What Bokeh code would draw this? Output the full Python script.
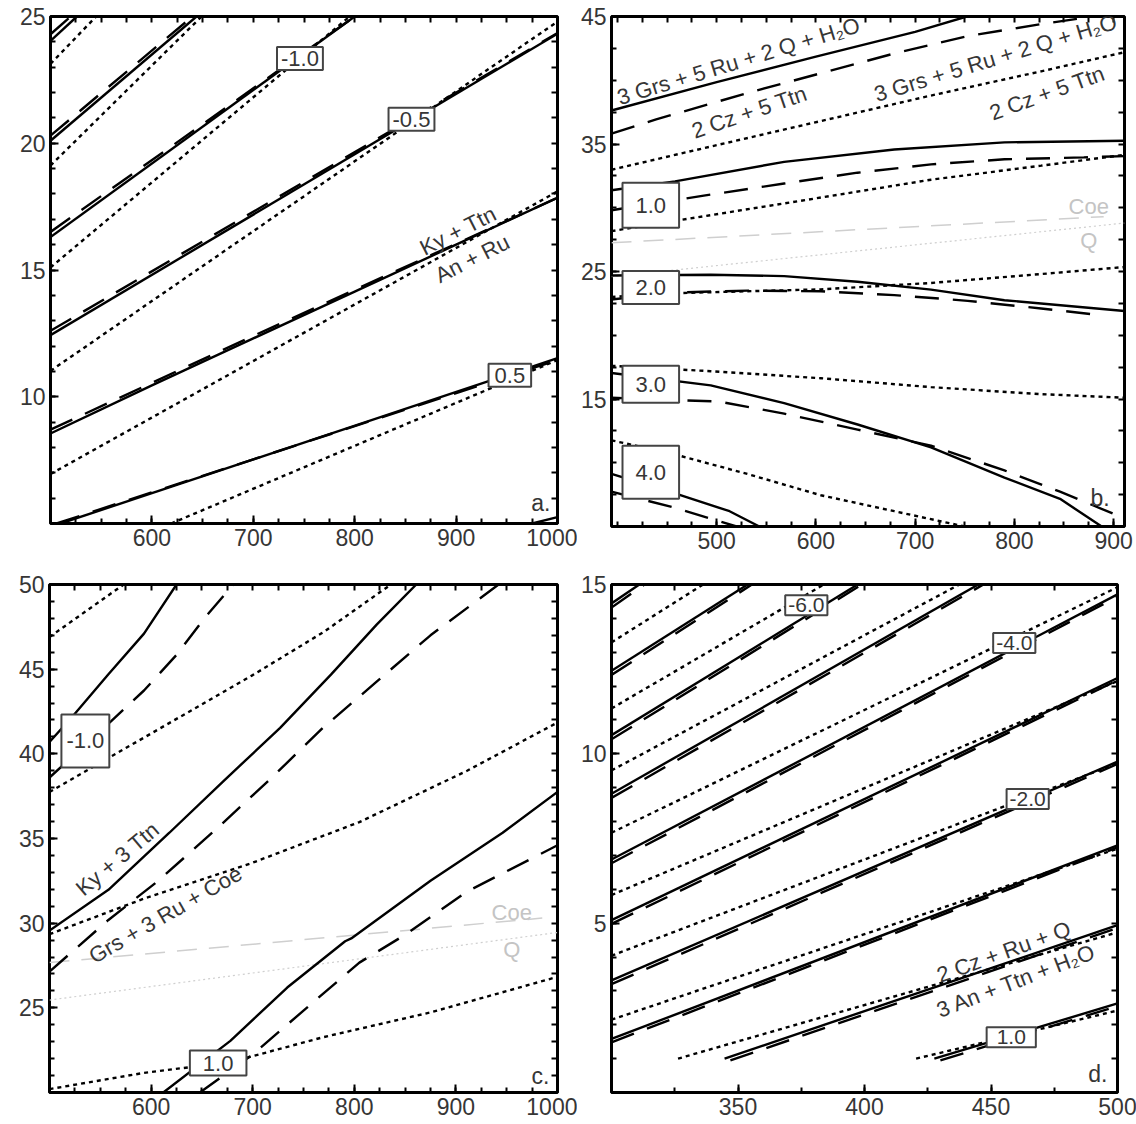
import numpy as np
from bokeh.plotting import figure
from bokeh.models import Range1d, FixedTicker, LinearAxis, Label
from bokeh.layouts import row, column
from bokeh.embed import file_html
from bokeh.resources import INLINE

# ---------------- data ----------------
# Panel a : x = T (500-1000), y = P (5-25)
a_solid_x = [[510, 1000], [500, 600, 700, 800, 900, 1000], [500, 1000], [500, 800], [500, 644], [500, 526], [975, 1000]]
a_solid_y = [[5.0, 11.52], [8.55, 10.45, 12.3, 14.15, 16.0, 17.85], [12.43, 24.32], [16.3, 25.0], [20.1, 25.0], [24.04, 25.0], [5.0, 5.25]]
a_dash_x = [[506, 1000], [500, 700, 1000], [500, 1000], [500, 800], [500, 640], [500, 520]]
a_dash_y = [[5.0, 11.45], [8.7, 12.4, 17.85], [12.6, 24.35], [16.5, 25.0], [20.3, 25.0], [24.3, 25.0]]
a_dot_x = [[619, 1000], [500, 1000], [500, 1000], [500, 795], [500, 649], [500, 545]]
a_dot_y = [[5.0, 11.45], [6.95, 18.1], [11.02, 24.8], [15.1, 25.0], [19.12, 25.0], [23.13, 25.0]]

# Panel b : x = T (394-911), y = P (5-45)
b_solid_x = [[394, 500, 600, 700, 752],
             [394, 458, 568, 679, 790, 911],
             [394, 494, 568, 642, 716, 790, 911],
             [394, 494, 568, 642, 716, 790, 846, 888],
             [394, 458, 513, 543]]
b_solid_y = [[37.63, 39.85, 41.85, 43.8, 45.0],
             [31.37, 32.07, 33.6, 34.57, 35.13, 35.26],
             [24.69, 24.75, 24.64, 24.2, 23.58, 22.75, 21.9],
             [17.04, 16.07, 14.68, 13.0, 11.2, 8.84, 7.17, 5.0],
             [9.12, 7.59, 6.2, 5.0]]
b_dash_x = [[394, 439, 531, 605, 679, 753, 827, 879],
            [394, 487, 568, 642, 716, 790, 870, 911],
            [394, 457, 531, 605, 679, 753, 827, 890],
            [394, 502, 568, 642, 716, 790, 846, 911],
            [394, 458, 520]]
b_dash_y = [[35.82, 36.93, 39.0, 40.55, 42.1, 43.47, 44.4, 45.0],
            [29.8, 30.95, 31.9, 32.75, 33.4, 33.8, 33.95, 34.05],
            [22.8, 23.35, 23.5, 23.45, 23.15, 22.7, 22.1, 21.55],
            [15.1, 14.8, 13.85, 12.6, 11.34, 9.4, 7.73, 5.64],
            [7.73, 6.47, 5.0]]
b_dot_x = [[394, 494, 605, 716, 827, 911],
           [394, 494, 605, 716, 827, 911],
           [394, 457, 605, 716, 827, 911],
           [394, 494, 605, 716, 827, 911],
           [394, 458, 531, 605, 679, 750]]
b_dot_y = [[32.98, 34.8, 36.8, 38.8, 40.7, 42.2],
           [28.17, 29.42, 30.8, 32.2, 33.3, 34.15],
           [23.0, 23.3, 23.6, 24.1, 24.8, 25.35],
           [17.6, 17.18, 16.63, 15.93, 15.38, 15.1],
           [11.76, 10.65, 9.12, 7.45, 6.2, 5.0]]
b_coe_x = [394, 890]
b_coe_y = [27.25, 29.3]
b_q_x = [394, 911]
b_q_y = [24.6, 28.8]

# Panel c : x = T (500-1000), y = P (20-50)
c_solid_x = [[500, 522, 558, 593, 625],
             [500, 558, 618, 671, 727, 777, 822, 861],
             [612, 678, 734, 791, 797, 875, 946, 1000]]
c_solid_y = [[40.7, 42.16, 44.7, 47.1, 50.0],
             [29.56, 31.97, 35.34, 38.38, 41.53, 44.68, 47.63, 50.0],
             [20.0, 23.05, 26.2, 28.93, 29.1, 32.5, 35.34, 37.75]]
c_dash_x = [[500, 561, 593, 625, 653, 681],
            [500, 558, 607, 664, 717, 769, 822, 875, 942],
            [648, 699, 752, 805, 851, 911, 1000]]
c_dash_y = [[38.6, 41.95, 43.74, 45.84, 48.05, 50.0],
            [27.14, 30.19, 32.5, 35.55, 38.49, 41.53, 44.26, 47.0, 50.0],
            [20.0, 22.2, 24.94, 27.67, 29.35, 31.87, 34.6]]
c_dot_x = [[500, 573],
           [500, 600, 700, 770, 836],
           [500, 593, 699, 805, 911, 1000],
           [500, 593, 678, 769, 875, 1000]]
c_dot_y = [[46.9, 50.0],
           [37.75, 41.2, 44.65, 47.2, 50.0],
           [29.35, 31.45, 33.55, 35.97, 39.0, 41.85],
           [20.2, 21.16, 21.79, 23.26, 24.73, 26.83]]
c_coe_x = [500, 985]
c_coe_y = [27.67, 30.3]
c_q_x = [500, 1000]
c_q_y = [25.46, 29.45]

# Panel d : x = T (300-500), y = P (0-15)
d_solid_x = [[427.6, 500], [344.7, 500], [300, 500], [300, 500], [300, 500], [300, 500],
             [300, 445], [300, 397.3], [300, 353.8], [300, 311]]
d_solid_y = [[1.0, 2.63], [1.0, 4.94], [1.58, 7.3], [3.31, 9.77], [5.09, 12.24], [6.88, 14.71],
             [8.82, 15.0], [10.55, 15.0], [12.45, 15.0], [14.44, 15.0]]
d_dash_x = [[430, 500], [347, 500], [300, 500], [300, 500], [300, 500], [300, 500],
            [300, 447], [300, 399], [300, 355.5], [300, 313]]
d_dash_y = [[0.95, 2.55], [0.95, 4.86], [1.48, 7.24], [3.2, 9.7], [4.98, 12.17], [6.77, 14.64],
            [8.7, 15.0], [10.43, 15.0], [12.33, 15.0], [14.32, 15.0]]
d_dot_x = [[420.4, 500], [326.3, 500], [300, 500], [300, 500], [300, 500], [300, 500],
           [300, 437.5], [300, 383.9], [300, 336.2]]
d_dot_y = [[1.0, 2.42], [1.0, 4.73], [2.15, 7.2], [4.04, 9.72], [5.83, 12.15], [7.67, 14.92],
           [9.51, 15.0], [11.34, 15.0], [13.29, 15.0]]

# ticks
a_xticks = [600, 700, 800, 900, 1000]
a_yticks = [10, 15, 20, 25]
b_xticks = [500, 600, 700, 800, 900]
b_yticks = [15, 25, 35, 45]
c_xticks = [600, 700, 800, 900, 1000]
c_yticks = [25, 30, 35, 40, 45, 50]
d_xticks = [350, 400, 450, 500]
d_yticks = [5, 10, 15]

# ---------------- styling helpers ----------------
FONT = "Liberation Sans"
TXT = "#363636"
DASH = "24 14"
DOT = "4 4"


def style_axis(ax, major, minor, labels):
    ax.axis_line_color = None
    ax.major_tick_out = 0
    ax.minor_tick_out = 0
    ax.major_tick_line_color = "black"
    ax.minor_tick_line_color = "black"
    ax.major_tick_line_width = 2
    ax.minor_tick_line_width = 2
    if labels:
        ax.ticker = FixedTicker(ticks=major, minor_ticks=minor)
        ax.major_tick_in = 8
        ax.minor_tick_in = 5
        ax.major_label_text_font = FONT
        ax.major_label_text_font_size = "23px"
        ax.major_label_text_color = TXT
    else:
        # mirrored ticks only, no labels
        ax.ticker = FixedTicker(ticks=[], minor_ticks=sorted(set(list(minor) + list(major))))
        ax.major_tick_in = 0
        ax.minor_tick_in = 6
        ax.major_label_standoff = 0


def panel(xr, yr, xmaj, ymaj, xminor, yminor, fw, fh, bl, br, bt, bb):
    p = figure(x_range=Range1d(*xr), y_range=Range1d(*yr),
               frame_width=fw, frame_height=fh,
               min_border_left=bl, min_border_right=br, min_border_top=bt, min_border_bottom=bb,
               output_backend="svg", toolbar_location=None)
    p.xgrid.visible = False
    p.ygrid.visible = False
    p.outline_line_color = "black"
    p.outline_line_width = 3
    p.outline_line_alpha = 1.0
    p.background_fill_color = "white"
    p.border_fill_color = "white"
    p.add_layout(LinearAxis(), "right")
    p.add_layout(LinearAxis(), "above")
    style_axis(p.below[0], xmaj, xminor, True)
    style_axis(p.above[0], xmaj, xminor, False)
    style_axis(p.left[0], ymaj, yminor, True)
    style_axis(p.right[0], ymaj, yminor, False)
    p.below[0].major_label_standoff = 5
    p.left[0].major_label_standoff = 5
    return p


def curves(p, xs, ys, dash):
    p.multi_line(xs=xs, ys=ys, line_color="black", line_width=2.4, line_dash=dash)


def gray(p, x, y, dash, w):
    p.line(x, y, line_color="#cfcfcf", line_width=w, line_dash=dash)


def txt(p, x, y, t, angle=0, size="23px", color=TXT, align="center"):
    p.add_layout(Label(x=x, y=y, text=t, angle=angle, angle_units="deg",
                       text_align=align, text_baseline="middle",
                       text_font=FONT, text_font_size=size, text_color=color))


def box(p, x, y, t, h, v, size="22px"):
    p.add_layout(Label(x=x, y=y, text=t, text_align="center", text_baseline="middle",
                       text_font=FONT, text_font_size=size, text_color=TXT,
                       background_fill_color="white", background_fill_alpha=1.0,
                       border_line_color="#444444", border_line_width=2,
                       padding=dict(left=h, right=h, top=v, bottom=v)))


# ---------------- panel a ----------------
pa = panel((500, 1000), (5, 25), a_xticks, a_yticks,
           list(np.arange(500, 1001, 25)), list(np.arange(5, 26, 1)),
           507, 507, 50, 20, 16, 49)
curves(pa, a_dot_x, a_dot_y, DOT)
curves(pa, a_dash_x, a_dash_y, DASH)
curves(pa, a_solid_x, a_solid_y, "solid")
txt(pa, 902, 16.55, "Ky + Ttn", angle=27, size="22px")
txt(pa, 916, 15.45, "An + Ru", angle=27, size="22px")
box(pa, 746, 23.34, "-1.0", 4, 4)
box(pa, 856, 20.95, "-0.5", 4, 4)
box(pa, 953, 10.85, "0.5", 6, 4)
txt(pa, 993, 5.8, "a.", align="right")

# ---------------- panel b ----------------
pb = panel((394, 911), (5, 45), b_xticks, b_yticks,
           list(np.arange(400, 911, 25)), list(np.arange(5, 45.1, 2.5)),
           513, 510, 31, 13, 13, 49)
gray(pb, b_coe_x, b_coe_y, "20 12", 1.5)
gray(pb, b_q_x, b_q_y, "2 3", 1.2)
curves(pb, b_dot_x, b_dot_y, DOT)
curves(pb, b_dash_x, b_dash_y, DASH)
curves(pb, b_solid_x, b_solid_y, "solid")
txt(pb, 522, 41.5, "3 Grs + 5 Ru + 2 Q + H\u2082O", angle=17, size="22px")
txt(pb, 533, 37.5, "2 Cz + 5 Ttn", angle=19, size="22px")
txt(pb, 781, 41.75, "3 Grs + 5 Ru + 2 Q + H\u2082O", angle=17, size="22px")
txt(pb, 833, 39.0, "2 Cz + 5 Ttn", angle=20, size="22px")
txt(pb, 875, 30.1, "Coe", size="22px", color="#c4c4c4")
txt(pb, 875, 27.4, "Q", size="22px", color="#c4c4c4")
box(pb, 433.6, 30.2, "1.0", 13, 15)
box(pb, 433.6, 23.75, "2.0", 13, 9)
box(pb, 433.6, 16.15, "3.0", 13, 11)
box(pb, 433.6, 9.26, "4.0", 13, 19)
txt(pb, 896, 7.2, "b.", align="right")

# ---------------- panel c ----------------
pc = panel((500, 1000), (20, 50), c_xticks, c_yticks,
           list(np.arange(500, 1001, 25)), list(np.arange(20, 50.1, 1)),
           508, 508, 49, 20, 12, 31)
gray(pc, c_coe_x, c_coe_y, "20 12", 1.5)
gray(pc, c_q_x, c_q_y, "2 3", 1.2)
curves(pc, c_dot_x, c_dot_y, DOT)
curves(pc, c_dash_x, c_dash_y, DASH)
curves(pc, c_solid_x, c_solid_y, "solid")
txt(pc, 567, 33.8, "Ky + 3 Ttn", angle=40, size="22px")
txt(pc, 614, 30.5, "Grs + 3 Ru + Coe", angle=30, size="22px")
txt(pc, 955, 30.65, "Coe", size="22px", color="#c4c4c4")
txt(pc, 955, 28.45, "Q", size="22px", color="#c4c4c4")
box(pc, 535.3, 40.76, "-1.0", 5, 19)
box(pc, 666, 21.74, "1.0", 13, 5)
txt(pc, 992, 20.95, "c.", align="right")

# ---------------- panel d ----------------
pd_ = panel((300, 500), (0, 15), d_xticks, d_yticks,
            list(np.arange(300, 501, 25)), list(np.arange(0, 15.1, 1)),
            506, 508, 31, 20, 12, 31)
curves(pd_, d_dot_x, d_dot_y, DOT)
curves(pd_, d_dash_x, d_dash_y, DASH)
curves(pd_, d_solid_x, d_solid_y, "solid")
txt(pd_, 455, 4.15, "2 Cz + Ru + Q", angle=20, size="22px")
txt(pd_, 460, 3.3, "3 An + Ttn + H\u2082O", angle=21, size="22px")
box(pd_, 377, 14.39, "-6.0", 3, 3, size="21px")
box(pd_, 459.2, 13.27, "-4.0", 3, 3, size="21px")
box(pd_, 464.5, 8.67, "-2.0", 3, 3, size="21px")
box(pd_, 458, 1.63, "1.0", 10, 3, size="21px")
txt(pd_, 496, 0.55, "d.", align="right")

layout = column(row(pa, pb), row(pc, pd_))
open("out.html", "w").write(file_html(layout, INLINE))
